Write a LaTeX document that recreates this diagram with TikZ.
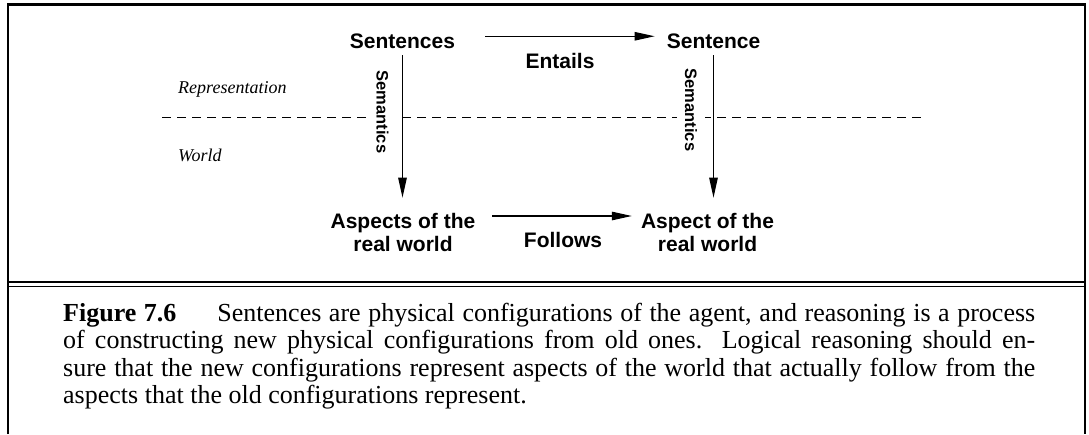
\documentclass[tikz,border=0pt]{standalone}
\usepackage{fontspec}
\setmainfont{Liberation Serif}
\newfontfamily\helv{Liberation Sans}
\usepackage{tikz}
\usetikzlibrary{calc,arrows.meta}

\begin{document}
\begin{tikzpicture}[x=1pt, y=-1pt, >={Triangle[length=20pt,width=8.5pt]},
		lbl/.style={font=\helv\bfseries\fontsize{21}{23}\selectfont, inner sep=0pt, align=center},
		sem/.style={font=\helv\bfseries\fontsize{16.5}{18}\selectfont, rotate=-90, fill=white, inner xsep=1pt, inner ysep=8pt},
		side/.style={font=\itshape\fontsize{18}{20}\selectfont, inner sep=0pt, anchor=base west},
		conn/.style={->, line width=1.1pt}]
			\useasboundingbox (0,0) rectangle (1089,434);
			\draw[line width=2.6pt] (8,434) -- (8,4.5) -- (1085,4.5) -- (1085,434);
			\draw[line width=2.6pt] (8,282) -- (1085,282);
			\draw[line width=1.2pt] (8,286.5) -- (1085,286.5);
			\draw[line width=1pt, dash pattern=on 9pt off 6pt] (162,117) -- (925,117);
			\node[side] (rep) at (178,93) {Representation};
			\node[side] (world) at (178,161) {World};
			\node[lbl, anchor=base] (sents) at (402.5,48) {Sentences};
			\node[lbl, anchor=base] (sent) at (713.5,48) {Sentence};
			\node[lbl, anchor=base] (ent) at (560,68) {Entails};
			\node[lbl, anchor=north] (aspects) at (403,212.7) {Aspects of the\\real world};
			\node[lbl, anchor=north] (aspect) at (707.5,212.7) {Aspect of the\\real world};
			\node[lbl, anchor=base] (fol) at (563,247) {Follows};
			\node[sem] (sem1) at (382.5,112) {Semantics};
			\node[sem] (sem2) at (691,110) {Semantics};
			\draw[conn, shorten <=30pt, shorten >=12pt] ([yshift=4.5pt]sents.east) -- ([yshift=4.5pt]sent.west);
			\draw[conn, shorten <=7pt, shorten >=15pt] (sents.south) -- (sents.south |- aspects.north);
			\draw[conn, shorten <=7pt, shorten >=15pt] (sent.south) -- (sent.south |- aspect.north);
			\draw[conn, shorten <=16.5pt, shorten >=9pt] ([yshift=-3.3pt]aspects.north east) -- ([yshift=-3.3pt]aspect.north west);
			\node[anchor=base west, inner sep=0pt, text width=972pt, align=justify, font=\fontsize{26}{27.5}\selectfont] (capt) at (63,321)
				{\textbf{Figure 7.6}\hspace{41pt}Sentences are physical configurations of the agent, and reasoning is a process\linebreak
				of constructing new physical configurations from old ones. Logical reasoning should en-\linebreak
				sure that the new configurations represent aspects of the world that actually follow from the\linebreak
				aspects that the old configurations represent.};
		\end{tikzpicture}
\end{document}
